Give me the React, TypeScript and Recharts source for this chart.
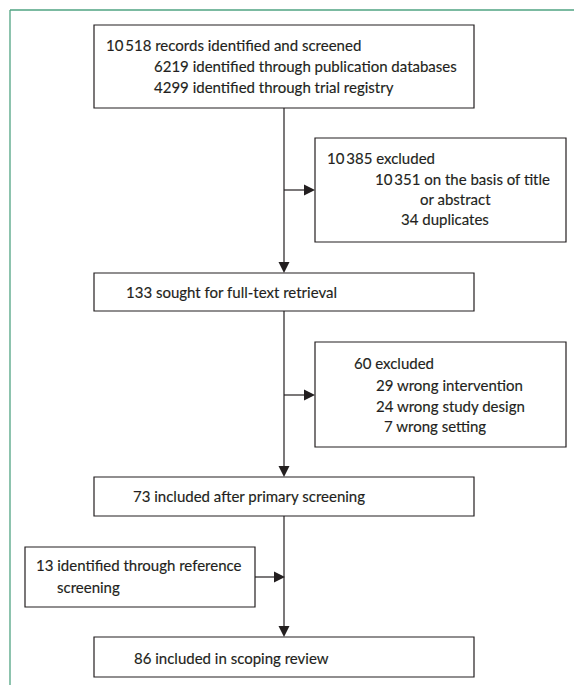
import React from "react";
import {
  ScatterChart,
  Scatter,
  XAxis,
  YAxis,
  ReferenceArea,
  ReferenceLine,
} from "recharts";

// ---------- data ----------
const identifiedCounts = [10518, 6219, 4299];
const identifiedLabels = [
  "records identified and screened",
  "identified through publication databases",
  "identified through trial registry",
];
const firstExcludedCounts = [10385, 10351, 34];
const firstExcludedLabels = ["excluded", "on the basis of title", "duplicates"];
const firstExcludedContinuation = "or abstract";
const soughtCount = [133];
const soughtLabel = ["sought for full-text retrieval"];
const secondExcludedCounts = [60, 29, 24, 7];
const secondExcludedLabels = [
  "excluded",
  "wrong intervention",
  "wrong study design",
  "wrong setting",
];
const primaryCount = [73];
const primaryLabel = ["included after primary screening"];
const referenceCount = [13];
const referenceLabels = ["identified through reference", "screening"];
const finalCount = [86];
const finalLabel = ["included in scoping review"];

// ---------- layout (chart units = pixels) ----------
const W = 574;
const H = 685;
const SPINE = 284;
const BORDER = "#4fa382";
const INK = "#231f20";
const TEXT = "#231f20";

const fmt = (n: number) =>
  n >= 10000 ? String(n).replace(/(\d+)(\d{3})$/, "$1\u2009$2") : String(n);

const boxes = [
  { x1: 94, x2: 474, y1: 25, y2: 108 },
  { x1: 315, x2: 566, y1: 138, y2: 242 },
  { x1: 94, x2: 474, y1: 273, y2: 311 },
  { x1: 315, x2: 566, y1: 342, y2: 447 },
  { x1: 94, x2: 474, y1: 477, y2: 516 },
  { x1: 25, x2: 255, y1: 547, y2: 607 },
  { x1: 94, x2: 474, y1: 637, y2: 677 },
];

const connectors = [
  [{ x: SPINE, y: 108 }, { x: SPINE, y: 266 }],
  [{ x: SPINE, y: 190 }, { x: 308, y: 190 }],
  [{ x: SPINE, y: 311 }, { x: SPINE, y: 471 }],
  [{ x: SPINE, y: 395 }, { x: 308, y: 395 }],
  [{ x: SPINE, y: 516 }, { x: SPINE, y: 631 }],
  [{ x: 255, y: 577 }, { x: 278, y: 577 }],
];

const arrowTips = [
  { x: SPINE, y: 273, dir: "down" },
  { x: 315, y: 190, dir: "right" },
  { x: SPINE, y: 477, dir: "down" },
  { x: 315, y: 395, dir: "right" },
  { x: 285, y: 577, dir: "right" },
  { x: SPINE, y: 637, dir: "down" },
];

const textLines = [
  { x: 106, y: 45, text: `${fmt(identifiedCounts[0])} ${identifiedLabels[0]}` },
  { x: 154, y: 66, text: `${fmt(identifiedCounts[1])} ${identifiedLabels[1]}` },
  { x: 154, y: 87, text: `${fmt(identifiedCounts[2])} ${identifiedLabels[2]}` },
  { x: 327, y: 158, text: `${fmt(firstExcludedCounts[0])} ${firstExcludedLabels[0]}` },
  { x: 375, y: 179, text: `${fmt(firstExcludedCounts[1])} ${firstExcludedLabels[1]}` },
  { x: 420, y: 199, text: firstExcludedContinuation },
  { x: 401, y: 219, text: `${fmt(firstExcludedCounts[2])} ${firstExcludedLabels[2]}` },
  { x: 126, y: 292, text: `${fmt(soughtCount[0])} ${soughtLabel[0]}` },
  { x: 354, y: 363, text: `${fmt(secondExcludedCounts[0])} ${secondExcludedLabels[0]}` },
  { x: 376, y: 385, text: `${fmt(secondExcludedCounts[1])} ${secondExcludedLabels[1]}` },
  { x: 376, y: 406, text: `${fmt(secondExcludedCounts[2])} ${secondExcludedLabels[2]}` },
  { x: 384, y: 426, text: `${fmt(secondExcludedCounts[3])} ${secondExcludedLabels[3]}` },
  { x: 133, y: 496, text: `${fmt(primaryCount[0])} ${primaryLabel[0]}` },
  { x: 36, y: 565, text: `${fmt(referenceCount[0])} ${referenceLabels[0]}` },
  { x: 57, y: 587, text: referenceLabels[1] },
  { x: 134, y: 658, text: `${fmt(finalCount[0])} ${finalLabel[0]}` },
];

const TextShape = (props: any) => {
  const { cx, cy, payload } = props;
  return (
    <text
      x={cx}
      y={cy}
      dominantBaseline="central"
      textAnchor="start"
      fontFamily="Lato, 'Open Sans', sans-serif"
      fontSize={15}
      fill={TEXT}
      stroke={TEXT}
      strokeWidth={0.15}
    >
      {payload.text}
    </text>
  );
};

const ArrowShape = (props: any) => {
  const { cx, cy, payload } = props;
  const L = 11;
  const h = 5.5;
  const pts =
    payload.dir === "down"
      ? `${cx},${cy} ${cx - h},${cy - L} ${cx + h},${cy - L}`
      : `${cx},${cy} ${cx - L},${cy - h} ${cx - L},${cy + h}`;
  return <polygon points={pts} fill={INK} stroke="none" />;
};

export default function App() {
  return (
    <div style={{ position: "absolute", left: 0, top: 0, background: "#fff" }}>
      <ScatterChart
        width={W}
        height={H}
        margin={{ top: 0, right: 0, bottom: 0, left: 0 }}
      >
        <XAxis type="number" dataKey="x" domain={[0, W]} hide allowDataOverflow />
        <YAxis
          type="number"
          dataKey="y"
          domain={[0, H]}
          reversed
          hide
          allowDataOverflow
        />
        <ReferenceLine
          segment={[{ x: 10, y: 10 }, { x: W, y: 10 }]}
          stroke={BORDER}
          strokeWidth={1.3}
        />
        <ReferenceLine
          segment={[{ x: 10, y: 10 }, { x: 10, y: H }]}
          stroke={BORDER}
          strokeWidth={1.3}
        />
        {connectors.map((seg, i) => (
          <ReferenceLine key={`c${i}`} segment={seg} stroke={INK} strokeWidth={1.2} />
        ))}
        {boxes.map((b, i) => (
          <ReferenceArea
            key={`b${i}`}
            x1={b.x1}
            x2={b.x2}
            y1={b.y1}
            y2={b.y2}
            fill="#fff"
            fillOpacity={1}
            stroke={INK}
            strokeWidth={1.2}
          />
        ))}
        <Scatter data={arrowTips} shape={<ArrowShape />} isAnimationActive={false} />
        <Scatter data={textLines} shape={<TextShape />} isAnimationActive={false} />
      </ScatterChart>
    </div>
  );
}
